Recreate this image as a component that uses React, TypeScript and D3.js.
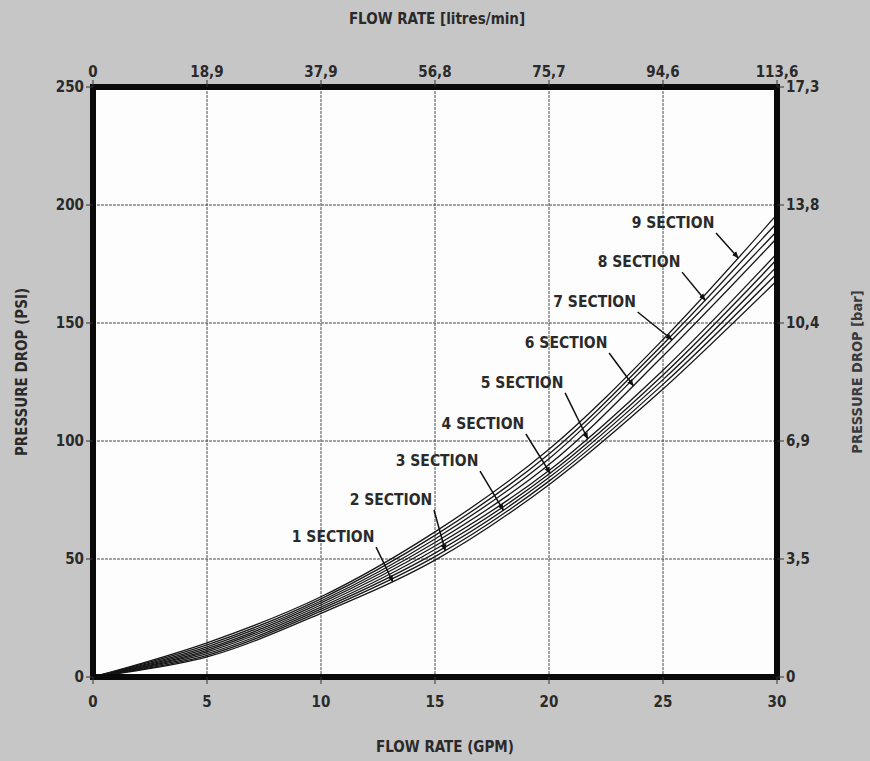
import React from 'react';
import * as d3 from 'd3';

// Flow rate (GPM) sample points
const flowGpm = [0, 5, 10, 15, 20, 25, 30];

// Pressure drop (PSI) per section count
const sec1 = [0, 8.5, 27.0, 49.5, 81.5, 122, 168];
const sec2 = [0, 9.2, 27.9, 51.0, 83.0, 124, 171];
const sec3 = [0, 9.9, 28.8, 52.5, 84.5, 126, 174];
const sec4 = [0, 10.6, 29.6, 54.0, 86.0, 128, 177];
const sec5 = [0, 11.3, 30.5, 55.5, 87.5, 130, 179.5];
const sec6 = [0, 12.0, 31.4, 57.0, 90.0, 136, 186];
const sec7 = [0, 12.8, 32.2, 58.5, 92.5, 139, 189];
const sec8 = [0, 13.6, 33.1, 60.0, 94.5, 141, 192.5];
const sec9 = [0, 14.5, 34.0, 61.5, 96.5, 143, 196];
const sections = [sec1, sec2, sec3, sec4, sec5, sec6, sec7, sec8, sec9];

const sectionNames = ['1 SECTION', '2 SECTION', '3 SECTION', '4 SECTION', '5 SECTION', '6 SECTION', '7 SECTION', '8 SECTION', '9 SECTION'];
// label centre (GPM, PSI) and arrow target flow (GPM)
const labelQ = [10.53, 13.07, 15.09, 17.1, 18.82, 20.75, 22.0, 23.95, 25.44];
const labelP = [59.3, 75.0, 91.5, 107.2, 124.6, 141.5, 158.9, 175.8, 192.4];
const arrowQ = [13.15, 15.45, 18.0, 20.05, 21.7, 23.7, 25.4, 26.85, 28.3];

const gpmTicks = [0, 5, 10, 15, 20, 25, 30];
const lpmTickLabels = ['0', '18,9', '37,9', '56,8', '75,7', '94,6', '113,6'];
const psiTicks = [0, 50, 100, 150, 200, 250];
const barTickLabels = ['0', '3,5', '6,9', '10,4', '13,8', '17,3'];

const W = 870;
const H = 761;
const FONT = "'Liberation Sans Narrow', 'Arial Narrow', 'DejaVu Sans Condensed', sans-serif";
const TXT = '#2a2a2a';

export default function App() {
  const x = d3.scaleLinear().domain([0, 30]).range([93, 777]);
  const y = d3.scaleLinear().domain([0, 250]).range([677, 87]);

  const curve = d3.curveCatmullRom.alpha(0.5);
  const line = d3
    .line<number>()
    .x((_, i) => x(flowGpm[i]))
    .y((d) => y(d))
    .curve(curve);

  // sample a section's smoothed curve at a given flow, via the same path
  const pointOn = (vals: number[], q: number) => {
    const el = document.createElementNS('http://www.w3.org/2000/svg', 'path');
    el.setAttribute('d', line(vals) || '');
    const len = el.getTotalLength();
    const tx = x(q);
    let lo = 0;
    let hi = len;
    for (let k = 0; k < 40; k++) {
      const mid = (lo + hi) / 2;
      if (el.getPointAtLength(mid).x < tx) lo = mid;
      else hi = mid;
    }
    const p = el.getPointAtLength((lo + hi) / 2);
    return [p.x, p.y];
  };

  const [x0, x1] = x.range();
  const [y0, y1] = y.range();

  return (
    <svg width={W} height={H} style={{ position: 'absolute', left: 0, top: 0 }} fontFamily={FONT}>
      <defs>
        <marker id="ah" viewBox="0 0 10 10" refX="9" refY="5" markerWidth="7" markerHeight="7" orient="auto" markerUnits="userSpaceOnUse">
          <path d="M0,1 L10,5 L0,9 Z" fill="#111" />
        </marker>
      </defs>
      <rect x={0} y={0} width={W} height={H} fill="#c6c6c6" />
      <rect x={x0} y={y1} width={x1 - x0} height={y0 - y1} fill="#fdfdfd" />

      {/* grid */}
      {gpmTicks.slice(1, -1).map((t) => (
        <line key={'gx' + t} x1={x(t)} x2={x(t)} y1={y1} y2={y0} stroke="#4a4a4a" strokeWidth={1} strokeDasharray="3,1" />
      ))}
      {psiTicks.slice(1, -1).map((t) => (
        <line key={'gy' + t} x1={x0} x2={x1} y1={y(t)} y2={y(t)} stroke="#4a4a4a" strokeWidth={1} strokeDasharray="3,1" />
      ))}

      {/* curves */}
      {sections.map((s, i) => (
        <path key={'c' + i} d={line(s) || ''} fill="none" stroke="#161616" strokeWidth={1.3} />
      ))}

      {/* section labels and arrows */}
      {sectionNames.map((name, i) => {
        const cx = x(labelQ[i]);
        const cy = y(labelP[i]);
        const [tx, ty] = pointOn(sections[i], arrowQ[i]);
        return (
          <g key={'l' + i}>
            <text x={cx} y={cy} textAnchor="middle" dominantBaseline="central" fontSize={15.5} fontWeight="bold" fill={TXT}>
              {name}
            </text>
            <line x1={cx + 43} y1={cy + 10} x2={tx} y2={ty} stroke="#111" strokeWidth={1.5} markerEnd="url(#ah)" />
          </g>
        );
      })}

      {/* frame */}
      <rect x={x0} y={y1} width={x1 - x0} height={y0 - y1} fill="none" stroke="#0a0a0a" strokeWidth={6} />

      {/* bottom axis */}
      {gpmTicks.map((t) => (
        <g key={'b' + t}>
          <line x1={x(t)} x2={x(t)} y1={y0} y2={y0 + 7} stroke="#333" strokeWidth={1} />
          <text x={x(t)} y={707} textAnchor="middle" fontSize={15} fontWeight="bold" fill={TXT}>
            {t}
          </text>
        </g>
      ))}
      {/* top axis */}
      {gpmTicks.map((t, i) => (
        <g key={'t' + t}>
          <line x1={x(t)} x2={x(t)} y1={y1} y2={y1 - 7} stroke="#333" strokeWidth={1} />
          <text x={x(t)} y={77} textAnchor="middle" fontSize={15} fontWeight="bold" fill={TXT}>
            {lpmTickLabels[i]}
          </text>
        </g>
      ))}
      {/* left axis */}
      {psiTicks.map((t) => (
        <g key={'L' + t}>
          <line x1={x0} x2={x0 - 7} y1={y(t)} y2={y(t)} stroke="#333" strokeWidth={1} />
          <text x={x0 - 9} y={y(t)} textAnchor="end" dominantBaseline="central" fontSize={15} fontWeight="bold" fill={TXT}>
            {t}
          </text>
        </g>
      ))}
      {/* right axis */}
      {psiTicks.map((t, i) => (
        <g key={'R' + t}>
          <line x1={x1} x2={x1 + 7} y1={y(t)} y2={y(t)} stroke="#333" strokeWidth={1} />
          <text x={x1 + 9} y={y(t)} textAnchor="start" dominantBaseline="central" fontSize={15} fontWeight="bold" fill={TXT}>
            {barTickLabels[i]}
          </text>
        </g>
      ))}

      {/* titles */}
      <text x={437} y={24} textAnchor="middle" fontSize={15} fontWeight="bold" fill={TXT}>
        FLOW RATE [litres/min]
      </text>
      <text x={445} y={752} textAnchor="middle" fontSize={15} fontWeight="bold" fill={TXT}>
        FLOW RATE (GPM)
      </text>
      <text transform="translate(27,372) rotate(-90)" textAnchor="middle" fontSize={15} fontWeight="bold" fill={TXT}>
        PRESSURE DROP (PSI)
      </text>
      <text transform="translate(862,372) rotate(-90)" textAnchor="middle" fontSize={14.5} fontWeight="bold" fill="#3a3a3a">
        PRESSURE DROP [bar]
      </text>
    </svg>
  );
}
